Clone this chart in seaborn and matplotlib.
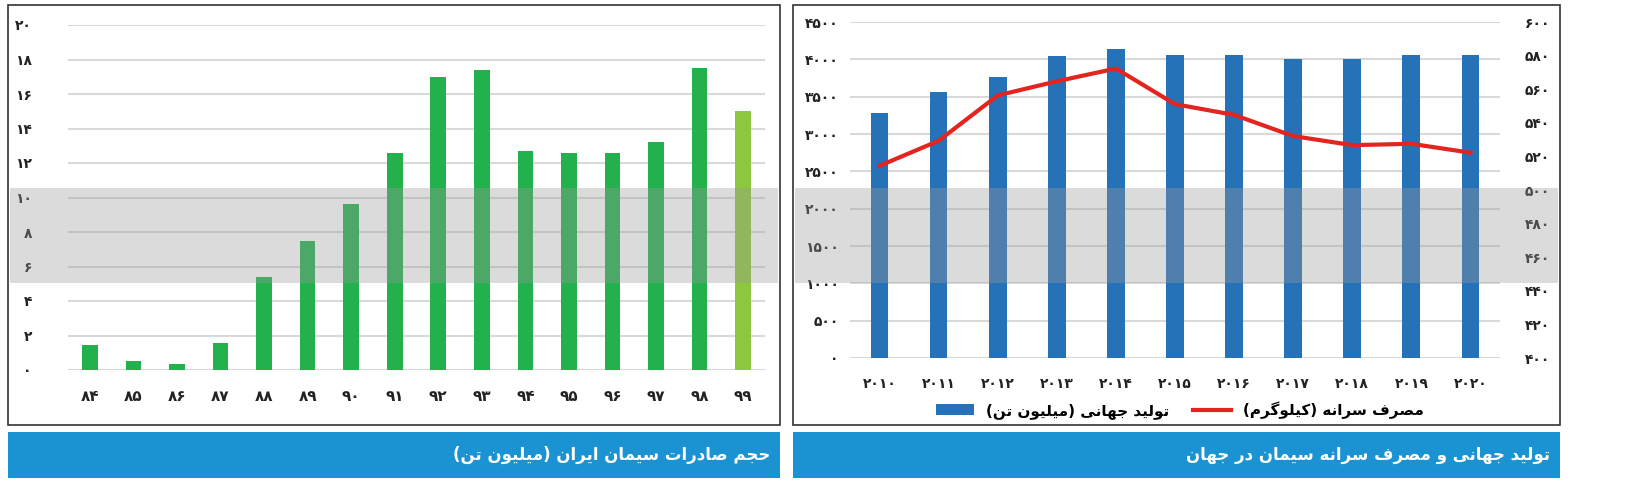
import matplotlib
matplotlib.use("Agg")
import matplotlib.pyplot as plt
from matplotlib.patches import Rectangle
from matplotlib.lines import Line2D
from matplotlib.patches import Patch
import seaborn as sns
import pandas as pd

# ---- data ----
years_fa = ["84", "85", "86", "87", "88", "89", "90", "91", "92", "93", "94", "95", "96", "97", "98", "99"]
exports = [1.45, 0.55, 0.35, 1.55, 5.4, 7.5, 9.6, 12.6, 17.0, 17.4, 12.7, 12.6, 12.6, 13.2, 17.5, 15.0]
world_years = ["2010", "2011", "2012", "2013", "2014", "2015", "2016", "2017", "2018", "2019", "2020"]
world_prod = [3275, 3560, 3760, 4040, 4140, 4060, 4060, 4010, 4010, 4060, 4060]
per_capita = [514.4, 529.3, 556.3, 564.7, 572.3, 551.1, 544.7, 532.1, 526.7, 527.5, 522.2]
left_title = "حجم صادرات سیمان ایران (میلیون تن)"
right_title = "تولید جهانی و مصرف سرانه سیمان در جهان"
leg_prod = "تولید جهانی (میلیون تن)"
leg_cap = "مصرف سرانه (کیلوگرم)"

# ---- minimal Persian shaping ----
FORMS = {
    'ا': ('\uFE8D', '\uFE8E', None, None), 'ب': ('\uFE8F', '\uFE90', '\uFE91', '\uFE92'),
    'ت': ('\uFE95', '\uFE96', '\uFE97', '\uFE98'), 'ج': ('\uFE9D', '\uFE9E', '\uFE9F', '\uFEA0'),
    'ح': ('\uFEA1', '\uFEA2', '\uFEA3', '\uFEA4'), 'د': ('\uFEA9', '\uFEAA', None, None),
    'ر': ('\uFEAD', '\uFEAE', None, None), 'ز': ('\uFEAF', '\uFEB0', None, None),
    'س': ('\uFEB1', '\uFEB2', '\uFEB3', '\uFEB4'), 'ص': ('\uFEB9', '\uFEBA', '\uFEBB', '\uFEBC'),
    'ع': ('\uFEC9', '\uFECA', '\uFECB', '\uFECC'), 'ف': ('\uFED1', '\uFED2', '\uFED3', '\uFED4'),
    'ق': ('\uFED5', '\uFED6', '\uFED7', '\uFED8'), 'ل': ('\uFEDD', '\uFEDE', '\uFEDF', '\uFEE0'),
    'م': ('\uFEE1', '\uFEE2', '\uFEE3', '\uFEE4'), 'ن': ('\uFEE5', '\uFEE6', '\uFEE7', '\uFEE8'),
    'ه': ('\uFEE9', '\uFEEA', '\uFEEB', '\uFEEC'), 'و': ('\uFEED', '\uFEEE', None, None),
    'ک': ('\uFB8E', '\uFB8F', '\uFB90', '\uFB91'), 'گ': ('\uFB92', '\uFB93', '\uFB94', '\uFB95'),
    'ی': ('\uFBFC', '\uFBFD', '\uFBFE', '\uFBFF'),
}

def joins_next(c):
    return c in FORMS and FORMS[c][2] is not None

def shape(s):
    out = []
    for i, c in enumerate(s):
        if c not in FORMS:
            out.append(c)
            continue
        prev = s[i - 1] if i > 0 else ''
        nxt = s[i + 1] if i + 1 < len(s) else ''
        jp = joins_next(prev)
        jn = joins_next(c) and nxt in FORMS
        iso, fin, ini, med = FORMS[c]
        if jp and jn:
            out.append(med)
        elif jp:
            out.append(fin)
        elif jn:
            out.append(ini)
        else:
            out.append(iso)
    r = ''.join(out)[::-1]
    return r.translate(str.maketrans('()', ')('))

def fa(s):
    return str(s).translate(str.maketrans('0123456789', '۰۱۲۳۴۵۶۷۸۹'))

plt.rcParams['font.family'] = 'DejaVu Sans'
W, H = 1633, 504
fig = plt.figure(figsize=(W / 100, H / 100), dpi=100)

def fx(x): return x / W
def fy(y): return 1 - y / H

# frames and title bars
for x0, x1 in [(8, 780), (793, 1560)]:
    fig.patches.append(Rectangle((fx(x0), fy(425)), fx(x1 - x0), (420) / H, transform=fig.transFigure,
                                 fill=False, edgecolor='#333333', lw=1.2))
    fig.patches.append(Rectangle((fx(x0), fy(478)), fx(x1 - x0), 46 / H, transform=fig.transFigure,
                                 facecolor='#1b93d2', edgecolor='none'))
fig.text(fx(770), fy(455), shape(left_title), color='white', fontsize=12, fontweight='bold', ha='right', va='center')
fig.text(fx(1550), fy(455), shape(right_title), color='white', fontsize=12, fontweight='bold', ha='right', va='center')

grid_c = '#d9d9d9'
# left chart
ax1 = fig.add_axes([fx(68), fy(370), fx(697), (345) / H])
df1 = pd.DataFrame({'year': years_fa, 'val': exports})
cols = ['#22b14c'] * (len(years_fa) - 1) + ['#8dc63f']
sns.barplot(data=df1, x='year', y='val', hue='year', palette=cols, legend=False, width=0.36,
            saturation=1, ax=ax1, zorder=2)
ax1.set_ylim(0, 20)
ax1.set_yticks(range(0, 21, 2))
ax1.set_yticklabels([fa(v) for v in range(0, 21, 2)], fontsize=10, fontweight='bold', color='#222222')
ax1.set_xticks(range(len(years_fa)))
ax1.set_xticklabels([fa(v) for v in years_fa], fontsize=11, fontweight='bold', color='#222222')
ax1.tick_params(length=0, pad=26, axis='y')
ax1.tick_params(length=0, pad=14, axis='x')
ax1.grid(axis='y', color=grid_c, lw=1.5, zorder=0)
ax1.set_axisbelow(True)
ax1.set_xlabel(''); ax1.set_ylabel('')
for s in ax1.spines.values():
    s.set_visible(False)

# right chart
ax2 = fig.add_axes([fx(850), fy(358), fx(650), 336 / H])
df2 = pd.DataFrame({'year': world_years, 'prod': world_prod, 'cap': per_capita})
sns.barplot(data=df2, x='year', y='prod', color='#2672b8', saturation=1, width=0.3, ax=ax2, zorder=2)
ax2.set_ylim(0, 4500)
ax2.set_yticks(range(0, 4501, 500))
ax2.set_yticklabels([fa(v) for v in range(0, 4501, 500)], fontsize=10, fontweight='bold', color='#222222')
ax2.set_xticklabels([fa(v) for v in world_years], fontsize=10, fontweight='bold', color='#222222')
ax2.tick_params(length=0, pad=8, axis='y')
ax2.tick_params(length=0, pad=14, axis='x')
ax2.grid(axis='y', color=grid_c, lw=1.5, zorder=0)
ax2.set_axisbelow(True)
ax2.set_xlabel(''); ax2.set_ylabel('')
for s in ax2.spines.values():
    s.set_visible(False)
ax3 = ax2.twinx()
sns.lineplot(x=list(range(len(world_years))), y=per_capita, color='#e3241f', lw=3, ax=ax3, zorder=3)
ax3.set_ylim(400, 600)
ax3.set_yticks(range(400, 601, 20))
ax3.set_yticklabels([fa(v) for v in range(400, 601, 20)], fontsize=10, fontweight='bold', color='#222222')
ax3.tick_params(length=0, pad=18)
for s in ax3.spines.values():
    s.set_visible(False)
ax2.set_xlim(-0.5, len(world_years) - 0.5)

handles = [Patch(facecolor='#2672b8'), Line2D([0], [0], color='#e3241f', lw=3)]
fig.legend(handles, [shape(leg_prod), shape(leg_cap)], loc='center', bbox_to_anchor=(fx(1180), fy(410)),
           ncol=2, frameon=False, prop={'size': 11, 'weight': 'bold'}, handlelength=2.5, columnspacing=1.5)

# watermark band
for x0, x1 in [(10, 778), (795, 1558)]:
    fig.patches.append(Rectangle((fx(x0), fy(283)), fx(x1 - x0), 95 / H, transform=fig.transFigure,
                                 facecolor='#9a9a9a', alpha=0.35, edgecolor='none', zorder=10))

fig.savefig('out.png', dpi=100, facecolor='white')
